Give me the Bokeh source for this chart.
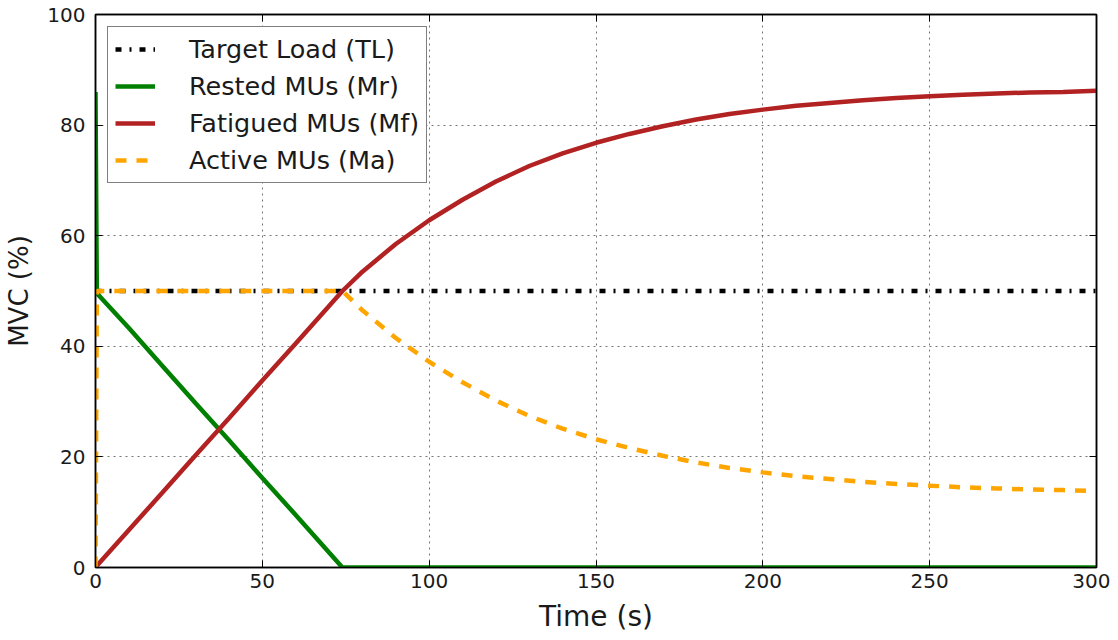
from bokeh.plotting import figure
from bokeh.models import LinearAxis, Legend, LegendItem, Range1d, FixedTicker
from bokeh.embed import file_html
from bokeh.resources import INLINE

# ---- data ----
time_s = [0, 0.4, 10, 20, 30, 40, 50, 60, 70, 74, 80, 90, 100, 110, 120, 130, 140, 150,
          160, 170, 180, 190, 200, 210, 220, 230, 240, 250, 260, 270, 280, 290, 300]
target_load = [50] * len(time_s)
rested_mr = [86, 49.6, 43.3, 36.5, 29.7, 23.0, 16.2, 9.5, 2.7, 0, 0, 0, 0, 0, 0, 0, 0, 0,
             0, 0, 0, 0, 0, 0, 0, 0, 0, 0, 0, 0, 0, 0, 0]
fatigued_mf = [0, 0.3, 6.8, 13.5, 20.3, 27.0, 33.8, 40.5, 47.3, 50, 53.5, 58.5, 62.8, 66.5,
               69.8, 72.6, 74.9, 76.8, 78.4, 79.8, 81.0, 82.0, 82.8, 83.5, 84.0, 84.5, 84.9,
               85.2, 85.5, 85.7, 85.9, 86.0, 86.2]
active_ma = [0, 50, 50, 50, 50, 50, 50, 50, 50, 50, 46.5, 41.5, 37.2, 33.5, 30.2, 27.4, 25.1,
             23.2, 21.6, 20.2, 19.0, 18.0, 17.2, 16.5, 16.0, 15.5, 15.1, 14.8, 14.5, 14.3,
             14.1, 14.0, 13.8]
x_ticks = [0, 50, 100, 150, 200, 250, 300]
y_ticks = [0, 20, 40, 60, 80, 100]

FONT = "DejaVu Sans"

p = figure(width=1110, height=638, output_backend="svg", toolbar_location=None,
           x_range=Range1d(0, 300), y_range=Range1d(0, 100),
           min_border_left=95, min_border_right=14, min_border_top=14, min_border_bottom=71)
p.background_fill_color = "white"
p.border_fill_color = "white"
p.outline_line_color = "black"
p.outline_line_width = 1.5

for ax in (p.xaxis[0], p.yaxis[0]):
    ax.major_tick_in = 7
    ax.major_tick_out = 0
    ax.minor_tick_line_color = None
    ax.axis_line_color = "black"
    ax.axis_line_width = 1.5
    ax.major_tick_line_color = "black"
    ax.major_tick_line_width = 1
    ax.major_label_text_font = FONT
    ax.major_label_text_font_size = "20px"
    ax.major_label_text_color = "#1a1a1a"
    ax.axis_label_text_font = FONT
    ax.axis_label_text_font_style = "normal"
    ax.axis_label_text_color = "#1a1a1a"

p.xaxis[0].axis_label_text_font_size = "28px"
p.yaxis[0].axis_label_text_font_size = "26px"
p.xaxis[0].ticker = FixedTicker(ticks=x_ticks)
p.yaxis[0].ticker = FixedTicker(ticks=y_ticks)
p.xaxis[0].axis_label = "Time (s)"
p.yaxis[0].axis_label = "MVC (%)"
p.xaxis[0].major_label_standoff = 6
p.yaxis[0].major_label_standoff = 10
p.xaxis[0].axis_label_standoff = 9
p.yaxis[0].axis_label_standoff = 10

for loc, ticks in (("right", y_ticks), ("above", x_ticks)):
    a = LinearAxis(ticker=FixedTicker(ticks=ticks), major_tick_in=7, major_tick_out=0,
                   minor_tick_line_color=None, major_label_text_font_size="0px",
                   major_label_text_alpha=0, major_label_standoff=0,
                   axis_line_color="black", axis_line_width=1.5)
    p.add_layout(a, loc)

p.xgrid.ticker = FixedTicker(ticks=x_ticks)
p.ygrid.ticker = FixedTicker(ticks=y_ticks)
for g in (p.xgrid[0], p.ygrid[0]):
    g.grid_line_color = "#555555"
    g.grid_line_alpha = 0.8
    g.grid_line_dash = "2 4"
    g.grid_line_width = 1

r_tl = p.line(time_s, target_load, line_color="black", line_width=4.5, line_dash="6 8 2 8")
r_mr = p.line(time_s, rested_mr, line_color="#008000", line_width=4.5)
r_mf = p.line(time_s, fatigued_mf, line_color="#b22222", line_width=4.5)
r_ma = p.line(time_s, active_ma, line_color="#ffa500", line_width=4.5, line_dash="11 10")

legend = Legend(items=[
    LegendItem(label="Target Load (TL)", renderers=[r_tl]),
    LegendItem(label="Rested MUs (Mr)", renderers=[r_mr]),
    LegendItem(label="Fatigued MUs (Mf)", renderers=[r_mf]),
    LegendItem(label="Active MUs (Ma)", renderers=[r_ma]),
], location="top_left")
legend.label_text_font = FONT
legend.label_text_font_size = "25.5px"
legend.label_text_color = "#1a1a1a"
legend.glyph_width = 40
legend.glyph_height = 30
legend.label_height = 30
legend.label_standoff = 34
legend.spacing = 7
legend.padding = 7
legend.margin = 12
legend.border_line_color = "black"
legend.border_line_width = 1.5
legend.background_fill_color = "white"
legend.background_fill_alpha = 1
p.add_layout(legend, "center")

open("out.html", "w").write(file_html(p, INLINE))
